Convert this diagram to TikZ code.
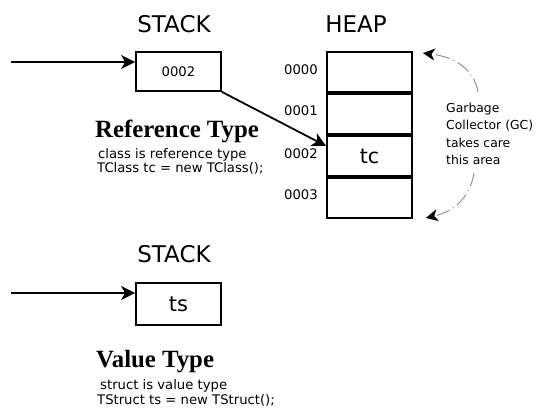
\documentclass[tikz,border=0pt]{standalone}
\usepackage{fontspec}
\setmainfont{DejaVu Sans}
\newfontfamily\serifbold{Liberation Serif}
\usetikzlibrary{arrows.meta}
\begin{document}
\begin{tikzpicture}[x=1pt,y=-1pt,
  box/.style={draw, line width=1.8pt, minimum width=85pt, inner sep=0pt},
  arr/.style={-{Stealth[length=14pt,width=14pt,inset=4pt]}, line width=1.8pt},
  gcarr/.style={-{Stealth[length=12pt,width=12pt,inset=3.5pt,color=black]}, draw=black!45, dash pattern=on 14pt off 4pt on 1pt off 4pt, line width=0.9pt},
  head/.style={font=\fontsize{23}{23}\selectfont},
  small/.style={font=\fontsize{13.2}{13}\selectfont},
  body/.style={font=\fontsize{13.2}{13}\selectfont, anchor=base west, inner sep=0pt},
  gctext/.style={font=\fontsize{12.4}{12}\selectfont, anchor=base west, inner sep=0pt},
  big/.style={font=\fontsize{20.5}{20}\selectfont},
  ttl/.style={font=\serifbold\bfseries\fontsize{24.8}{24}\selectfont, anchor=base west, inner sep=0pt}
]
\useasboundingbox (0,0) rectangle (537,409);

% top stack
\node[head] (st1) at (174,24) {STACK};
\node[box, minimum height=39pt, small] (s1) at (178.5,71.5) {0002};
\coordinate (in1) at (11,62);
\draw[arr] (in1) -- (s1.west |- in1);

% heap
\node[head] (hp) at (356,24) {HEAP};
\node[box, minimum height=40pt] (h0) at (369.5,72) {};
\node[box, minimum height=40pt] (h1) at (369.5,114) {};
\node[box, minimum height=40pt, big] (h2) at (369.5,156) {tc};
\node[box, minimum height=40pt] (h3) at (369.5,198) {};
\node[small] (a0) at (301,70) {0000};
\node[small] (a1) at (301,111) {0001};
\node[small] (a2) at (301,154) {0002};
\node[small] (a3) at (301,195) {0003};
\draw[arr] (s1.south east) -- ([yshift=10pt]h2.west);

% GC
\node[gctext] (g1) at (446,112) {Garbage};
\node[gctext] (g2) at (446,129.5) {Collector (GC)};
\node[gctext] (g3) at (446,147) {takes care};
\node[gctext] (g4) at (446,164.5) {this area};
\coordinate (gt) at (478,92);
\coordinate (gb) at (474,173);
\draw[gcarr] (gt) .. controls (474,70) and (456,57) .. ([xshift=10pt,yshift=-2pt]h0.north east);
\draw[gcarr] (gb) .. controls (470,196) and (456,211) .. ([xshift=13pt,yshift=1pt]h3.south east);

% reference type text
\node[ttl] (rt) at (95,137) {Reference Type};
\node[body] (r1) at (98,158) {class is reference type};
\node[body] (r2) at (97,172.5) {TClass tc = new TClass();};

% bottom stack
\node[head] (st2) at (174,254) {STACK};
\node[box, minimum height=42pt, font=\fontsize{21}{21}\selectfont] (s2) at (178.5,304) {ts};
\coordinate (in2) at (11,293);
\draw[arr] (in2) -- (s2.west |- in2);

\node[ttl] (vt) at (96,367) {Value Type};
\node[body] (v1) at (100,389) {struct is value type};
\node[body] (v2) at (97,404) {TStruct ts = new TStruct();};
\end{tikzpicture}
\end{document}
